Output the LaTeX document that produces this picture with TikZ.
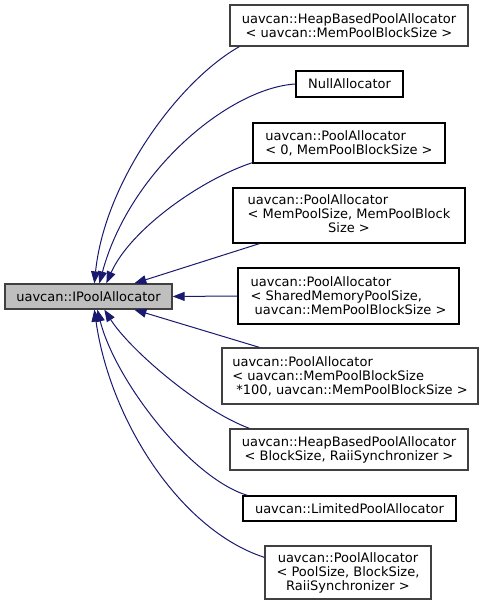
\documentclass[tikz,border=0pt]{standalone}
\usepackage{fontspec}
\setmainfont{DejaVu Sans}
\usetikzlibrary{arrows.meta}

\definecolor{edgeblue}{HTML}{191970}
\definecolor{basefill}{HTML}{BFBFBF}
\definecolor{boxline}{HTML}{404040}

\tikzset{
  cls/.style={draw=black, line width=1.3pt, inner sep=0pt, fill=white},
  tmpl/.style={cls, draw=boxline},
  basecls/.style={cls, draw=boxline, fill=basefill},
  inh/.style={edgeblue, line width=1pt, -{Triangle[length=12pt,width=9pt]}}
}

\begin{document}
\begin{tikzpicture}[x=1pt, y=-1pt, font=\fontsize{13}{14}\selectfont]
\useasboundingbox (0,0) rectangle (484,607);

\node[basecls, minimum width=167pt, minimum height=25pt] (ipool) at (88.5,296.5) {uavcan::IPoolAllocator};

\node[tmpl, minimum width=238pt, minimum height=41pt, align=center] (heapmem) at (349,25.5)
  {uavcan::HeapBasedPoolAllocator\\< uavcan::MemPoolBlockSize >};
\node[cls, minimum width=107pt, minimum height=26pt] (nullalloc) at (349.5,84) {NullAllocator};
\node[cls, minimum width=192pt, minimum height=40pt, align=left] (pool0) at (349,143)
  {uavcan::PoolAllocator\\< 0, MemPoolBlockSize >};
\node[cls, minimum width=232pt, minimum height=55pt] (poolmem) at (349,215.5)
  {\begin{tabular}{@{}l@{}}uavcan::PoolAllocator\\< MemPoolSize, MemPoolBlock\\\multicolumn{1}{@{}c@{}}{Size >}\end{tabular}};
\node[cls, minimum width=221pt, minimum height=56pt, align=left] (poolshared) at (348.5,296)
  {uavcan::PoolAllocator\\< SharedMemoryPoolSize,\\\ uavcan::MemPoolBlockSize >};
\node[tmpl, minimum width=256pt, minimum height=56pt, align=left] (pool100) at (350,376)
  {uavcan::PoolAllocator\\< uavcan::MemPoolBlockSize\\\ *100, uavcan::MemPoolBlockSize >};
\node[tmpl, minimum width=238pt, minimum height=41pt, align=center] (heapraii) at (349,449.5)
  {uavcan::HeapBasedPoolAllocator\\< BlockSize, RaiiSynchronizer >};
\node[cls, minimum width=213pt, minimum height=25pt] (limited) at (349.5,508.5) {uavcan::LimitedPoolAllocator};
\node[tmpl, minimum width=166pt, minimum height=53pt, align=center] (poolraii) at (348,572.5)
  {uavcan::PoolAllocator\\< PoolSize, BlockSize,\\RaiiSynchronizer >};

% upper children
\draw[inh] ([xshift=10pt]heapmem.south west) .. controls (180,80) and (105,180) .. ([xshift=90pt]ipool.north west);
\draw[inh] (nullalloc.west) .. controls (230,88) and (130,170) .. ([xshift=95pt]ipool.north west);
\draw[inh] ([yshift=1pt]pool0.south west) .. controls (200,180) and (130,230) .. ([xshift=102pt]ipool.north west);
\draw[inh] ([xshift=27pt]poolmem.south west) -- ([xshift=130pt]ipool.north west);
\draw[inh] (poolshared.west) -- (ipool.east);

% lower children
\draw[inh] ([xshift=38pt]pool100.north west) -- ([xshift=130pt]ipool.south west);
\draw[inh] ([xshift=20pt]heapraii.north west) .. controls (200,410) and (130,350) .. ([xshift=100pt]ipool.south west);
\draw[inh] ([xshift=5pt]limited.north west) .. controls (190,478) and (115,380) .. ([xshift=93pt]ipool.south west);
\draw[inh] ([yshift=-12pt]poolraii.north west) .. controls (180,530) and (110,420) .. ([xshift=90pt]ipool.south west);
\end{tikzpicture}
\end{document}
